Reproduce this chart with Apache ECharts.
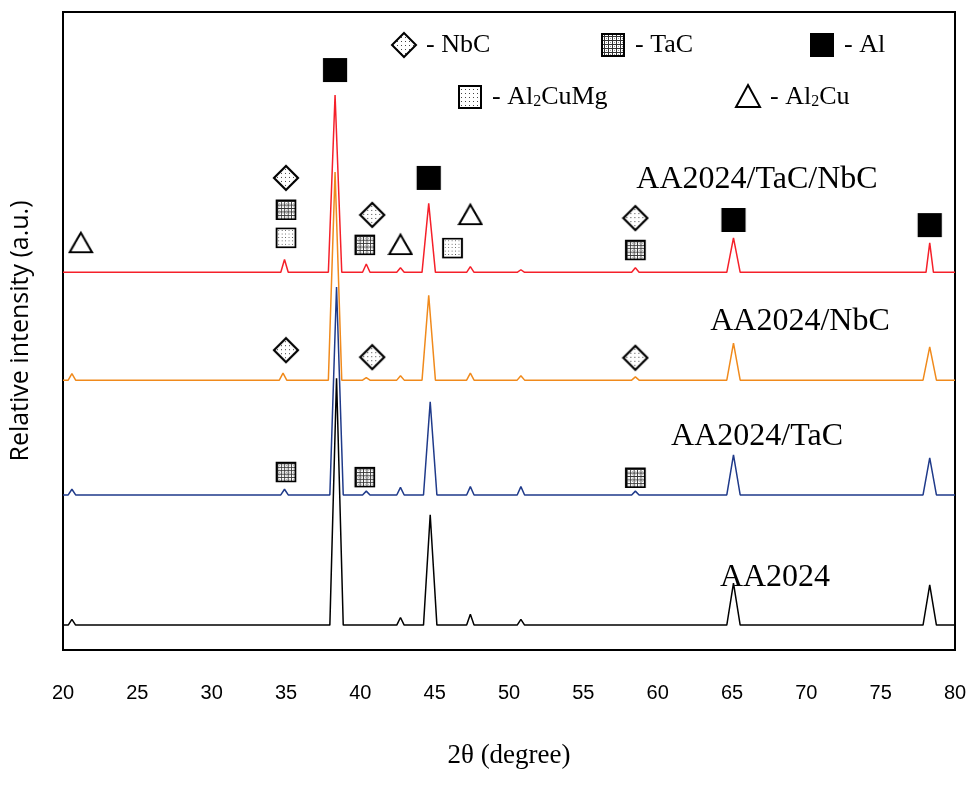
<!DOCTYPE html>
<html><head><meta charset="utf-8">
<script src="https://cdn.jsdelivr.net/npm/echarts@6/dist/echarts.min.js"></script>
<style>html,body{margin:0;padding:0;background:#fff}#c{width:975px;height:801px}</style>
</head><body><div id="c"></div>
<script>
const xTicks=[20,25,30,35,40,45,50,55,60,65,70,75,80];
// peaks: [center 2θ, top intensity]
const blackBase=3.9, blackPeaks=[[20.6,4.8],[38.4,42.6],[42.7,5.1],[44.7,21.2],[47.4,5.6],[50.8,4.8],[65.1,10.5],[78.3,10.2]];
const blueBase=24.3, bluePeaks=[[20.6,25.2],[34.9,25.2],[38.4,56.9],[40.4,24.9],[42.7,25.5],[44.7,38.9],[47.4,25.6],[50.8,25.6],[58.5,24.9],[65.1,30.6],[78.3,30.1]];
const orangeBase=42.3, orangePeaks=[[20.6,43.3],[34.8,43.4],[38.3,74.9],[40.4,42.7],[42.7,43.0],[44.6,55.6],[47.4,43.4],[50.8,43.0],[58.5,42.8],[65.1,48.1],[78.3,47.5]];
const redBase=59.2, redPeaks=[[34.9,61.2],[38.3,87.0],[40.4,60.5],[42.7,59.9],[44.6,70.0],[47.4,60.1],[50.8,59.6],[58.5,59.9],[65.1,64.6],[78.3,63.8]];
// phase marker positions [2θ, intensity]
const alMarks=[[38.3,90.9],[44.6,74.0],[65.1,67.4],[78.3,66.6]];
const nbcMarks=[[35,74.0],[40.8,68.2],[58.5,67.7],[35,47.0],[40.8,45.9],[58.5,45.8]];
const tacMarks=[[35,69.0],[40.3,63.5],[58.5,62.7],[35,27.9],[40.3,27.1],[58.5,27.0]];
const al2cumgMarks=[[35,64.6],[46.2,63.0]];
const al2cuMarks=[[21.2,63.8],[42.7,63.5],[47.4,68.2]];
const sampleLabels=[['AA2024/TaC/NbC',[757,180]],['AA2024/NbC',[800,322]],['AA2024/TaC',[757,437]],['AA2024',[775,578]]];

function build(base,peaks){const pts=[[20,base]];peaks.forEach(([c,t])=>{const w=t-base>5?0.45:0.25;pts.push([c-w,base],[c,t],[c+w,base]);});pts.push([80,base]);return pts;}
function pat(kind){const cv=document.createElement('canvas');cv.width=4;cv.height=4;const g=cv.getContext('2d');g.fillStyle='#fff';g.fillRect(0,0,4,4);
 if(kind==='dots'){g.fillStyle='#444';g.fillRect(1,1,1,1);}else{g.fillStyle='#333';g.fillRect(0,0,4,1);g.fillRect(0,0,1,4);g.fillStyle='#999';g.fillRect(2,2,1,1);}
 return cv;}
const dotsC=pat('dots'),gridC=pat('grid');
function icon(shape,fill){const S=28,cv=document.createElement('canvas');cv.width=S;cv.height=S;const g=cv.getContext('2d');
 g.beginPath();
 if(shape==='diamond'){g.moveTo(14,2);g.lineTo(26,14);g.lineTo(14,26);g.lineTo(2,14);g.closePath();}
 else if(shape==='tri'){g.moveTo(14,3);g.lineTo(26,24);g.lineTo(2,24);g.closePath();}
 else {g.rect(3,3,22,22);}
 g.fillStyle=fill==='dots'?g.createPattern(dotsC,'repeat'):fill==='grid'?g.createPattern(gridC,'repeat'):fill;
 g.fill();g.lineWidth=2.2;g.strokeStyle='#000';g.stroke();
 return 'image://'+cv.toDataURL();}
const dots={image:dotsC,repeat:'repeat'},grid={image:gridC,repeat:'repeat'};
const serif='Liberation Serif';
function sc(data,symbol,size){return {type:'scatter',data,symbol,symbolSize:size,z:5,itemStyle:{opacity:1}};}
const chart=echarts.init(document.getElementById('c'));
const legendEls=[];
function lg(x,y,symbolShape,fill,text){
 let el;
 if(symbolShape==='diamond') el={type:'polygon',shape:{points:[[x,y-12],[x+12,y],[x,y+12],[x-12,y]]}};
 else if(symbolShape==='tri') el={type:'polygon',shape:{points:[[x,y-12],[x+12,y+10],[x-12,y+10]]}};
 else el={type:'rect',shape:{x:x-11,y:y-11,width:22,height:22}};
 el.style={fill,stroke:'#000',lineWidth:2};legendEls.push(el);
 legendEls.push({type:'text',x:x+22,y:y,style:{text:text,rich:{s:{fontSize:16,fontFamily:serif,verticalAlign:'bottom',padding:[10,0,0,0]},n:{fontSize:26,fontFamily:serif}},font:'26px '+serif,fill:'#000',verticalAlign:'middle'}});
}
lg(404,45,'diamond',dots,'{n|- NbC}');
lg(613,45,'rect',grid,'{n|- TaC}');
lg(822,45,'rect','#000','{n|- Al}');
lg(470,97,'rect',dots,'{n|- Al}{s|2}{n|CuMg}');
lg(748,97,'tri','#fff','{n|- Al}{s|2}{n|Cu}');
sampleLabels.forEach(([t,p])=>legendEls.push({type:'text',x:p[0],y:p[1],style:{text:t,font:'32px '+serif,fill:'#000',align:'center',verticalAlign:'middle'}}));
chart.setOption({
 animation:false,
 grid:{left:63,right:20,top:12,bottom:151,show:true,borderColor:'#000',borderWidth:2},
 xAxis:{type:'value',min:20,max:80,interval:5,name:'2θ (degree)',nameLocation:'middle',nameGap:92,
  nameTextStyle:{fontFamily:serif,fontSize:27,color:'#000'},
  axisLine:{lineStyle:{color:'#000',width:2}},axisTick:{show:false},splitLine:{show:false},
  axisLabel:{fontFamily:'Liberation Sans',fontSize:20,color:'#000',margin:33,formatter:v=>xTicks.includes(v)?String(v):''}},
 yAxis:{type:'value',min:0,max:100,name:'Relative intensity (a.u.)',nameLocation:'middle',nameGap:30,
  nameTextStyle:{fontFamily:'Open Sans',fontSize:25,color:'#000'},
  axisLine:{show:false},axisTick:{show:false},axisLabel:{show:false},splitLine:{show:false}},
 series:[
  {type:'line',data:build(blackBase,blackPeaks),symbol:'none',lineStyle:{color:'#000',width:1.5}},
  {type:'line',data:build(blueBase,bluePeaks),symbol:'none',lineStyle:{color:'#1f3a8a',width:1.5}},
  {type:'line',data:build(orangeBase,orangePeaks),symbol:'none',lineStyle:{color:'#f08a1c',width:1.5}},
  {type:'line',data:build(redBase,redPeaks),symbol:'none',lineStyle:{color:'#f5202a',width:1.5}},
  sc(alMarks,icon('rect','#000'),28),
  sc(nbcMarks,icon('diamond','dots'),28),
  sc(tacMarks,icon('rect','grid'),24),
  sc(al2cumgMarks,icon('rect','dots'),24),
  sc(al2cuMarks,icon('tri','#fff'),26)
 ],
 graphic:legendEls
});
</script></body></html>
